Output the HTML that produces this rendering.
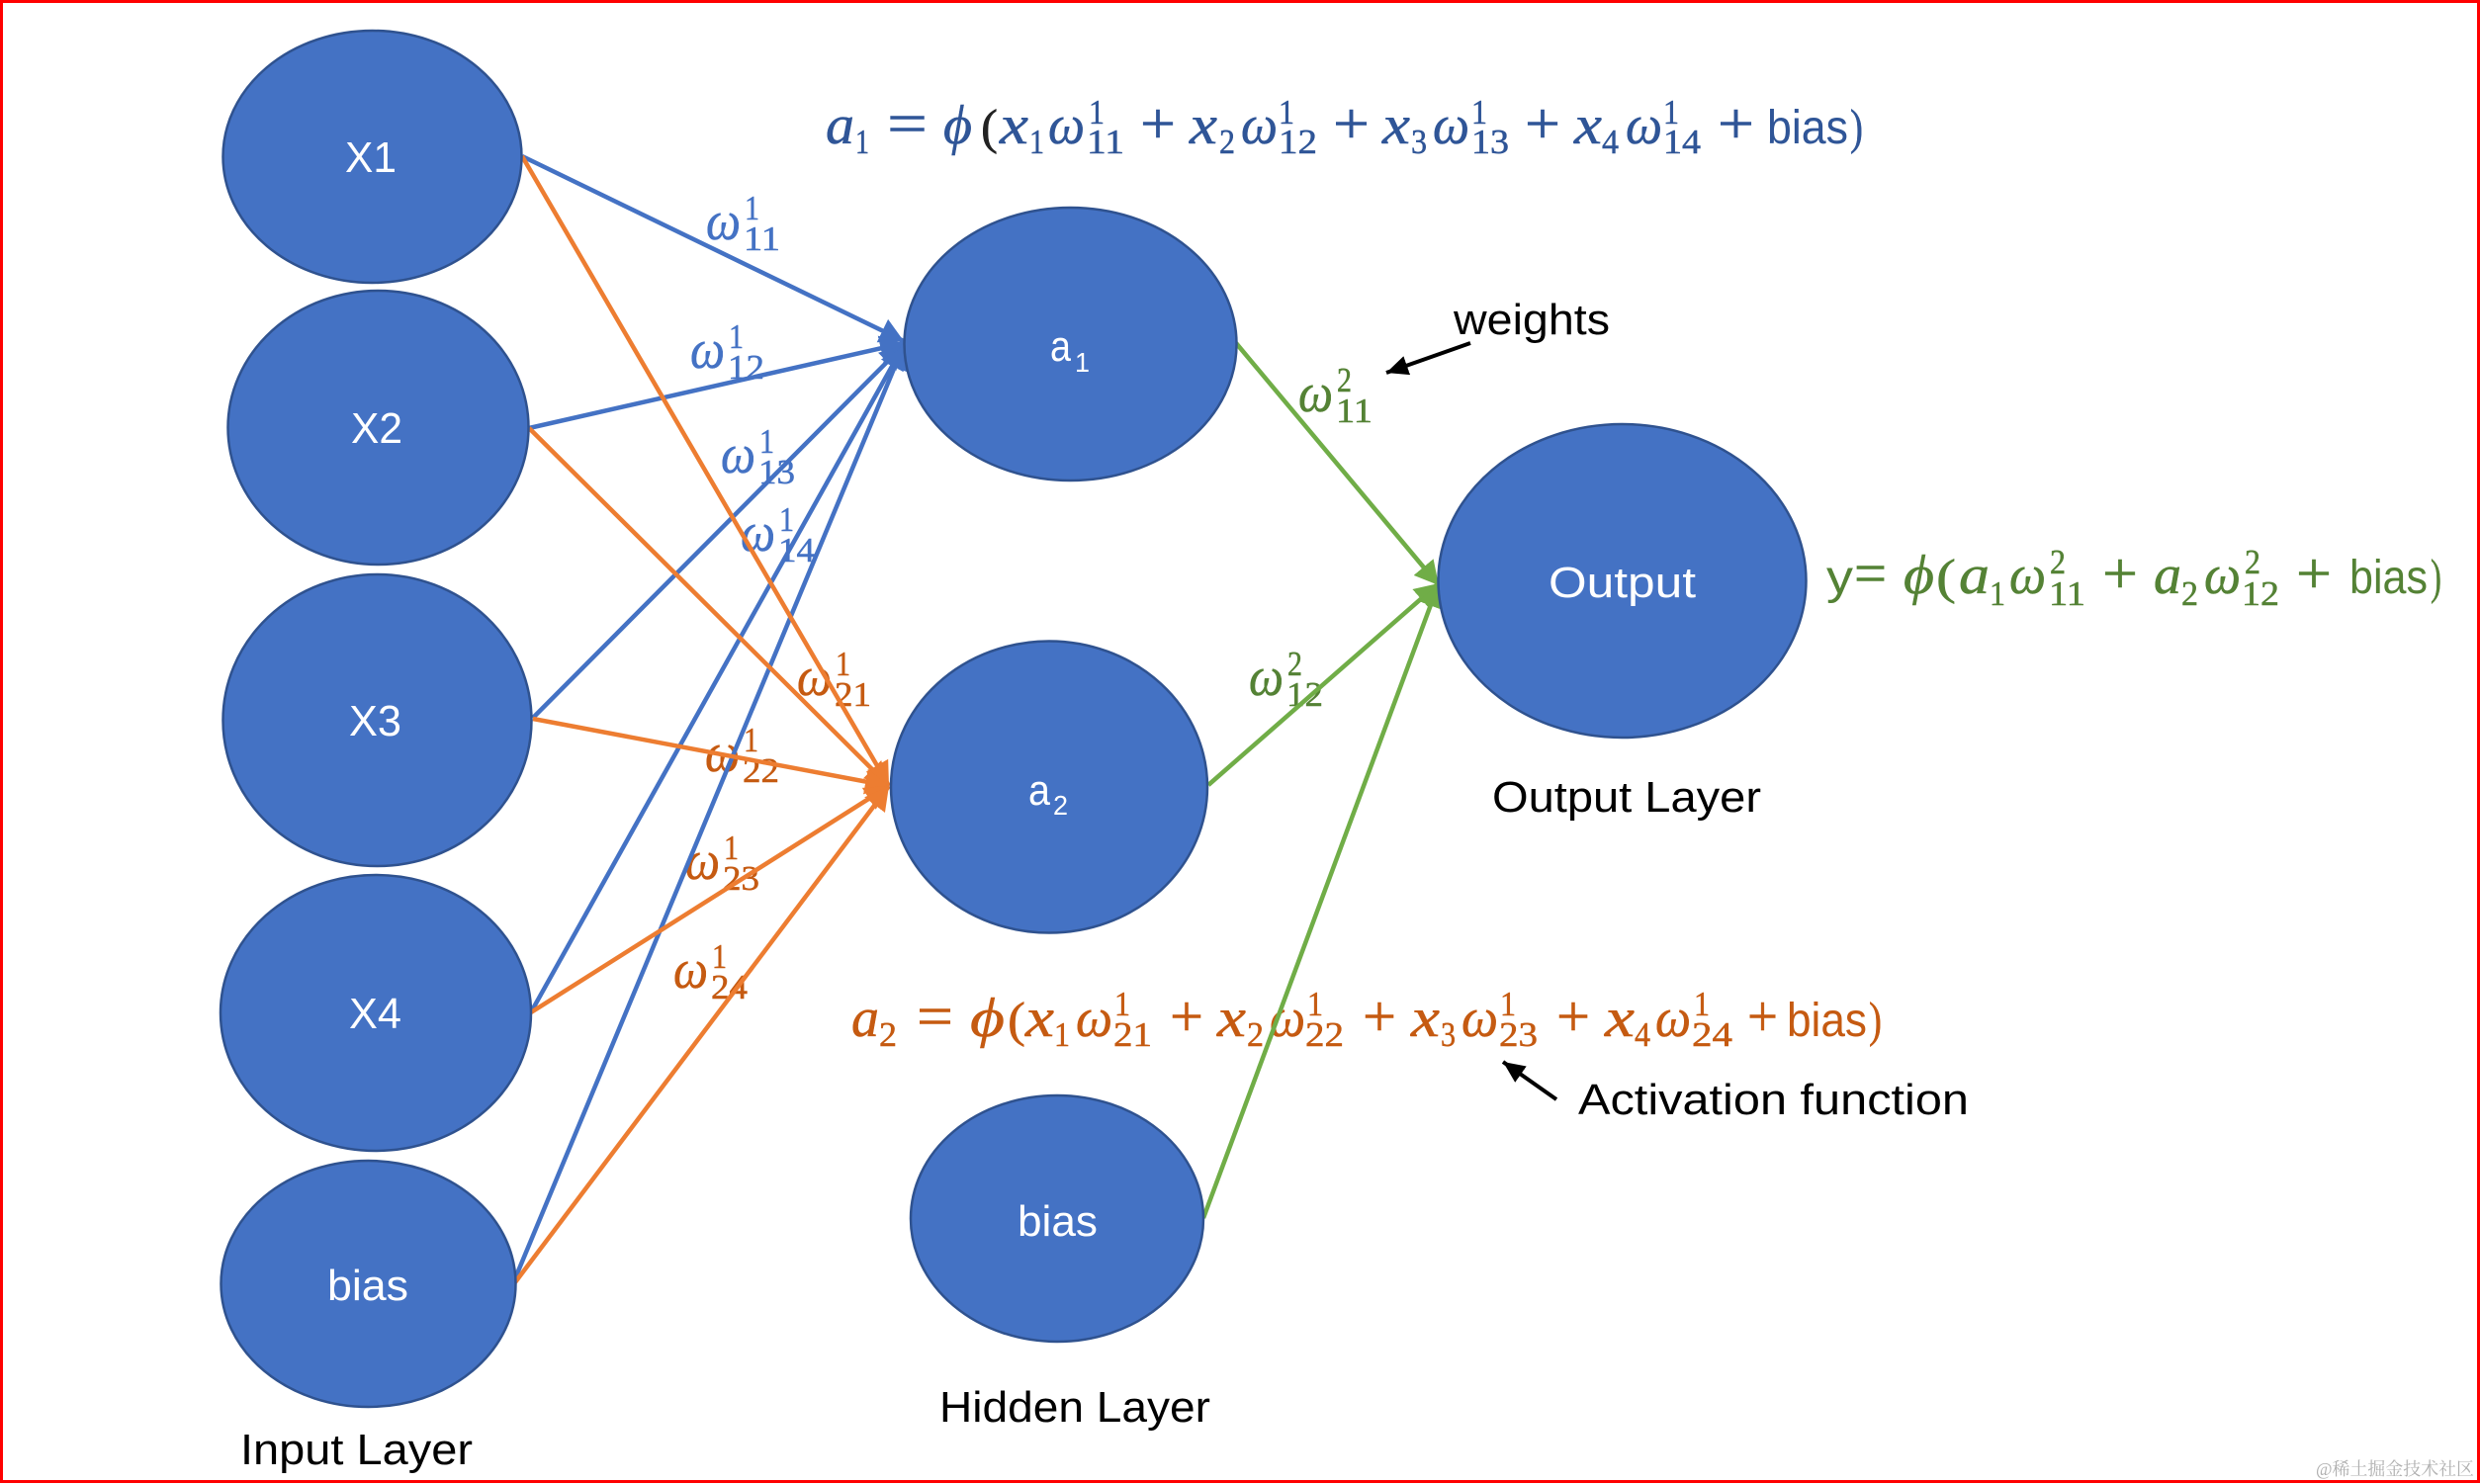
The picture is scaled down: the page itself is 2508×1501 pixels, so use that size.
<!DOCTYPE html>
<html>
<head>
<meta charset="utf-8">
<style>
html,body{margin:0;padding:0;background:#fff}
svg{display:block}
text{font-family:"Liberation Sans",sans-serif}
.m text,text.m{font-family:"Liberation Serif","DejaVu Serif",serif;font-style:italic;stroke-width:.5px}
.d{font-family:"Liberation Serif","DejaVu Serif",serif!important;font-style:normal!important;font-size:35px}
.o{font-family:"Liberation Serif","DejaVu Serif",serif!important;font-style:normal!important;font-size:50px}
.p{font-family:"Liberation Serif","DejaVu Serif",serif!important;font-style:normal!important;font-size:60px}
.m text.s{font-family:"Liberation Sans",sans-serif!important;font-style:normal!important;font-size:48px;stroke:none}
.w{font-size:44px;fill:#fff}
.k{font-size:44px;fill:#000}
.g{font-size:56px}
</style>
</head>
<body>
<svg xmlns="http://www.w3.org/2000/svg" width="2508" height="1501" viewBox="0 0 2508 1501">
<defs>
<marker id="hb" markerUnits="userSpaceOnUse" markerWidth="28" markerHeight="30" refX="24" refY="15" orient="auto"><path d="M0 2L24 15L0 28z" fill="#4472c4"/></marker>
<marker id="ho" markerUnits="userSpaceOnUse" markerWidth="28" markerHeight="30" refX="24" refY="15" orient="auto"><path d="M0 2L24 15L0 28z" fill="#ed7d31"/></marker>
<marker id="hg" markerUnits="userSpaceOnUse" markerWidth="28" markerHeight="30" refX="24" refY="15" orient="auto"><path d="M0 2L24 15L0 28z" fill="#70ad47"/></marker>
<marker id="hk" markerUnits="userSpaceOnUse" markerWidth="24" markerHeight="24" refX="22" refY="12" orient="auto"><path d="M0 2L22 12L0 22z" fill="#000"/></marker>
</defs>
<rect x="0" y="0" width="2508" height="1501" fill="#fff"/>

<!-- weight labels: blue -->
<g class="m" fill="#4472c4" stroke="#4472c4">
<text class="g" x="714" y="242" textLength="35" lengthAdjust="spacingAndGlyphs">ω</text><text class="d" x="753" y="222" textLength="15" lengthAdjust="spacingAndGlyphs">1</text><text class="d" x="752" y="253" textLength="37" lengthAdjust="spacingAndGlyphs">11</text>
<text class="g" x="698" y="372" textLength="35" lengthAdjust="spacingAndGlyphs">ω</text><text class="d" x="737" y="352" textLength="15" lengthAdjust="spacingAndGlyphs">1</text><text class="d" x="736" y="383" textLength="37" lengthAdjust="spacingAndGlyphs">12</text>
<text class="g" x="729" y="478" textLength="35" lengthAdjust="spacingAndGlyphs">ω</text><text class="d" x="768" y="458" textLength="15" lengthAdjust="spacingAndGlyphs">1</text><text class="d" x="767" y="489" textLength="37" lengthAdjust="spacingAndGlyphs">13</text>
<text class="g" x="749" y="557" textLength="35" lengthAdjust="spacingAndGlyphs">ω</text><text class="d" x="788" y="537" textLength="15" lengthAdjust="spacingAndGlyphs">1</text><text class="d" x="787" y="568" textLength="37" lengthAdjust="spacingAndGlyphs">14</text>
</g>
<!-- weight labels: orange -->
<g class="m" fill="#c55a11" stroke="#c55a11">
<text class="g" x="806" y="703" textLength="35" lengthAdjust="spacingAndGlyphs">ω</text><text class="d" x="845" y="683" textLength="15" lengthAdjust="spacingAndGlyphs">1</text><text class="d" x="844" y="714" textLength="37" lengthAdjust="spacingAndGlyphs">21</text>
<text class="g" x="713" y="780" textLength="35" lengthAdjust="spacingAndGlyphs">ω</text><text class="d" x="752" y="760" textLength="15" lengthAdjust="spacingAndGlyphs">1</text><text class="d" x="751" y="791" textLength="37" lengthAdjust="spacingAndGlyphs">22</text>
<text class="g" x="693" y="889" textLength="35" lengthAdjust="spacingAndGlyphs">ω</text><text class="d" x="732" y="869" textLength="15" lengthAdjust="spacingAndGlyphs">1</text><text class="d" x="731" y="900" textLength="37" lengthAdjust="spacingAndGlyphs">23</text>
<text class="g" x="681" y="999" textLength="35" lengthAdjust="spacingAndGlyphs">ω</text><text class="d" x="720" y="979" textLength="15" lengthAdjust="spacingAndGlyphs">1</text><text class="d" x="719" y="1010" textLength="37" lengthAdjust="spacingAndGlyphs">24</text>
</g>
<!-- weight labels: green -->
<g class="m" fill="#548235" stroke="#548235">
<text class="g" x="1313" y="416" textLength="35" lengthAdjust="spacingAndGlyphs">ω</text><text class="d" x="1352" y="396" textLength="15" lengthAdjust="spacingAndGlyphs">2</text><text class="d" x="1351" y="427" textLength="37" lengthAdjust="spacingAndGlyphs">11</text>
<text class="g" x="1263" y="703" textLength="35" lengthAdjust="spacingAndGlyphs">ω</text><text class="d" x="1302" y="683" textLength="15" lengthAdjust="spacingAndGlyphs">2</text><text class="d" x="1301" y="714" textLength="37" lengthAdjust="spacingAndGlyphs">12</text>
</g>

<!-- equation a1 -->
<g class="m" fill="#2f5597" stroke="#2f5597">
<text class="g" x="835" y="145" textLength="29" lengthAdjust="spacingAndGlyphs">a</text><text class="d" x="865" y="155" textLength="14" lengthAdjust="spacingAndGlyphs">1</text>
<text class="p" x="897" y="145" textLength="41" lengthAdjust="spacingAndGlyphs">=</text>
<text class="g" x="954" y="145" textLength="29" lengthAdjust="spacingAndGlyphs">ϕ</text>
<text class="o" x="992" y="145" textLength="17" lengthAdjust="spacingAndGlyphs" fill="#222" stroke="#222">(</text>
<text class="g" x="1011" y="145" textLength="29" lengthAdjust="spacingAndGlyphs">x</text><text class="d" x="1041" y="155" textLength="15" lengthAdjust="spacingAndGlyphs">1</text>
<text class="g" x="1060" y="145" textLength="37" lengthAdjust="spacingAndGlyphs">ω</text><text class="d" x="1101" y="125" textLength="16" lengthAdjust="spacingAndGlyphs">1</text><text class="d" x="1099" y="155" textLength="38" lengthAdjust="spacingAndGlyphs">11</text>
<text class="p" x="1153" y="145" textLength="36" lengthAdjust="spacingAndGlyphs">+</text>
<text class="g" x="1203" y="145" textLength="28" lengthAdjust="spacingAndGlyphs">x</text><text class="d" x="1233" y="155" textLength="16" lengthAdjust="spacingAndGlyphs">2</text>
<text class="g" x="1255" y="145" textLength="37" lengthAdjust="spacingAndGlyphs">ω</text><text class="d" x="1293" y="125" textLength="16" lengthAdjust="spacingAndGlyphs">1</text><text class="d" x="1293" y="155" textLength="39" lengthAdjust="spacingAndGlyphs">12</text>
<text class="p" x="1348" y="145" textLength="37" lengthAdjust="spacingAndGlyphs">+</text>
<text class="g" x="1398" y="145" textLength="28" lengthAdjust="spacingAndGlyphs">x</text><text class="d" x="1427" y="155" textLength="16" lengthAdjust="spacingAndGlyphs">3</text>
<text class="g" x="1449" y="145" textLength="37" lengthAdjust="spacingAndGlyphs">ω</text><text class="d" x="1488" y="125" textLength="16" lengthAdjust="spacingAndGlyphs">1</text><text class="d" x="1488" y="155" textLength="38" lengthAdjust="spacingAndGlyphs">13</text>
<text class="p" x="1542" y="145" textLength="36" lengthAdjust="spacingAndGlyphs">+</text>
<text class="g" x="1592" y="145" textLength="28" lengthAdjust="spacingAndGlyphs">x</text><text class="d" x="1620" y="155" textLength="17" lengthAdjust="spacingAndGlyphs">4</text>
<text class="g" x="1644" y="145" textLength="37" lengthAdjust="spacingAndGlyphs">ω</text><text class="d" x="1682" y="125" textLength="16" lengthAdjust="spacingAndGlyphs">1</text><text class="d" x="1682" y="155" textLength="38" lengthAdjust="spacingAndGlyphs">14</text>
<text class="p" x="1737" y="145" textLength="37" lengthAdjust="spacingAndGlyphs">+</text>
<text class="s" x="1787" y="145" textLength="82" lengthAdjust="spacingAndGlyphs">bias</text>
<text class="o" x="1871" y="145" textLength="13" lengthAdjust="spacingAndGlyphs">)</text>
</g>

<!-- equation a2 -->
<g class="m" fill="#c55a11" stroke="#c55a11">
<text class="g" x="861" y="1048" textLength="28" lengthAdjust="spacingAndGlyphs">a</text><text class="d" x="889" y="1058" textLength="18" lengthAdjust="spacingAndGlyphs">2</text>
<text class="p" x="927" y="1048" textLength="37" lengthAdjust="spacingAndGlyphs">=</text>
<text class="g" x="981" y="1048" textLength="35" lengthAdjust="spacingAndGlyphs">ϕ</text>
<text class="o" x="1019" y="1048" textLength="18" lengthAdjust="spacingAndGlyphs">(</text>
<text class="g" x="1037" y="1048" textLength="29" lengthAdjust="spacingAndGlyphs">x</text><text class="d" x="1066" y="1058" textLength="16" lengthAdjust="spacingAndGlyphs">1</text>
<text class="g" x="1088" y="1048" textLength="37" lengthAdjust="spacingAndGlyphs">ω</text><text class="d" x="1127" y="1027" textLength="16" lengthAdjust="spacingAndGlyphs">1</text><text class="d" x="1126" y="1058" textLength="39" lengthAdjust="spacingAndGlyphs">21</text>
<text class="p" x="1183" y="1048" textLength="34" lengthAdjust="spacingAndGlyphs">+</text>
<text class="g" x="1231" y="1048" textLength="29" lengthAdjust="spacingAndGlyphs">x</text><text class="d" x="1261" y="1058" textLength="17" lengthAdjust="spacingAndGlyphs">2</text>
<text class="g" x="1284" y="1048" textLength="36" lengthAdjust="spacingAndGlyphs">ω</text><text class="d" x="1322" y="1027" textLength="16" lengthAdjust="spacingAndGlyphs">1</text><text class="d" x="1320" y="1058" textLength="39" lengthAdjust="spacingAndGlyphs">22</text>
<text class="p" x="1378" y="1048" textLength="34" lengthAdjust="spacingAndGlyphs">+</text>
<text class="g" x="1427" y="1048" textLength="29" lengthAdjust="spacingAndGlyphs">x</text><text class="d" x="1457" y="1058" textLength="15" lengthAdjust="spacingAndGlyphs">3</text>
<text class="g" x="1478" y="1048" textLength="37" lengthAdjust="spacingAndGlyphs">ω</text><text class="d" x="1517" y="1027" textLength="16" lengthAdjust="spacingAndGlyphs">1</text><text class="d" x="1516" y="1058" textLength="39" lengthAdjust="spacingAndGlyphs">23</text>
<text class="p" x="1574" y="1048" textLength="34" lengthAdjust="spacingAndGlyphs">+</text>
<text class="g" x="1623" y="1048" textLength="30" lengthAdjust="spacingAndGlyphs">x</text><text class="d" x="1653" y="1058" textLength="16" lengthAdjust="spacingAndGlyphs">4</text>
<text class="g" x="1674" y="1048" textLength="36" lengthAdjust="spacingAndGlyphs">ω</text><text class="d" x="1713" y="1027" textLength="16" lengthAdjust="spacingAndGlyphs">1</text><text class="d" x="1711" y="1058" textLength="41" lengthAdjust="spacingAndGlyphs">24</text>
<text class="p" x="1767" y="1048" textLength="31" lengthAdjust="spacingAndGlyphs">+</text>
<text class="s" x="1807" y="1048" textLength="81" lengthAdjust="spacingAndGlyphs">bias</text>
<text class="o" x="1890" y="1048" textLength="13" lengthAdjust="spacingAndGlyphs">)</text>
</g>

<!-- equation y -->
<g class="m" fill="#548235" stroke="#548235">
<text class="s" x="1847" y="600" textLength="27" lengthAdjust="spacingAndGlyphs">y</text>
<text class="p" x="1875" y="600" textLength="33" lengthAdjust="spacingAndGlyphs">=</text>
<text class="g" x="1925" y="600" textLength="31" lengthAdjust="spacingAndGlyphs">ϕ</text>
<text class="o" x="1958" y="600" textLength="20" lengthAdjust="spacingAndGlyphs">(</text>
<text class="g" x="1981" y="600" textLength="31" lengthAdjust="spacingAndGlyphs">a</text><text class="d" x="2012" y="612" textLength="16" lengthAdjust="spacingAndGlyphs">1</text>
<text class="g" x="2032" y="600" textLength="37" lengthAdjust="spacingAndGlyphs">ω</text><text class="d" x="2073" y="580" textLength="16" lengthAdjust="spacingAndGlyphs">2</text><text class="d" x="2072" y="612" textLength="37" lengthAdjust="spacingAndGlyphs">11</text>
<text class="p" x="2126" y="600" textLength="36" lengthAdjust="spacingAndGlyphs">+</text>
<text class="g" x="2178" y="600" textLength="28" lengthAdjust="spacingAndGlyphs">a</text><text class="d" x="2206" y="612" textLength="17" lengthAdjust="spacingAndGlyphs">2</text>
<text class="g" x="2229" y="600" textLength="37" lengthAdjust="spacingAndGlyphs">ω</text><text class="d" x="2270" y="580" textLength="16" lengthAdjust="spacingAndGlyphs">2</text><text class="d" x="2267" y="612" textLength="38" lengthAdjust="spacingAndGlyphs">12</text>
<text class="p" x="2322" y="600" textLength="36" lengthAdjust="spacingAndGlyphs">+</text>
<text class="s" x="2376" y="600" textLength="79" lengthAdjust="spacingAndGlyphs">bias</text>
<text class="o" x="2458" y="600" textLength="11" lengthAdjust="spacingAndGlyphs">)</text>
</g>

<!-- connectors -->
<g fill="none" stroke-width="4.5" stroke="#4472c4">
<line x1="528" y1="158" x2="914" y2="345" marker-end="url(#hb)"/>
<line x1="535" y1="433" x2="914" y2="347" marker-end="url(#hb)"/>
<line x1="539" y1="726" x2="914" y2="349" marker-end="url(#hb)"/>
<line x1="538" y1="1022" x2="914" y2="349" marker-end="url(#hb)"/>
<line x1="521" y1="1293" x2="914" y2="349" marker-end="url(#hb)"/>
</g>
<g fill="none" stroke-width="4.5" stroke="#ed7d31">
<line x1="528" y1="158" x2="899" y2="795" marker-end="url(#ho)"/>
<line x1="535" y1="433" x2="899" y2="795" marker-end="url(#ho)"/>
<line x1="539" y1="727" x2="899" y2="795" marker-end="url(#ho)"/>
<line x1="537" y1="1024" x2="899" y2="795" marker-end="url(#ho)"/>
<line x1="521" y1="1297" x2="899" y2="795" marker-end="url(#ho)"/>
</g>
<g fill="none" stroke-width="4.5" stroke="#70ad47">
<line x1="1250" y1="347" x2="1455" y2="592" marker-end="url(#hg)"/>
<line x1="1222" y1="794" x2="1455" y2="590" marker-end="url(#hg)"/>
<line x1="1217" y1="1232" x2="1455" y2="590" marker-end="url(#hg)"/>
</g>
<line x1="1487" y1="347" x2="1402" y2="377" stroke="#000" stroke-width="4" marker-end="url(#hk)"/>
<line x1="1574" y1="1112" x2="1520" y2="1074" stroke="#000" stroke-width="4" marker-end="url(#hk)"/>

<!-- nodes -->
<g fill="#4472c4" stroke="#2f528f" stroke-width="2.5">
<ellipse cx="376.5" cy="158.5" rx="151" ry="127.5"/>
<ellipse cx="382.5" cy="432.5" rx="152" ry="138.5"/>
<ellipse cx="381.5" cy="728.5" rx="156" ry="147.5"/>
<ellipse cx="380" cy="1024.5" rx="157" ry="139.5"/>
<ellipse cx="372.5" cy="1298.5" rx="149" ry="124.5"/>
<ellipse cx="1082.5" cy="348" rx="168" ry="138"/>
<ellipse cx="1061" cy="796" rx="160" ry="147.5"/>
<ellipse cx="1069" cy="1232.5" rx="148" ry="124.5"/>
<ellipse cx="1640.5" cy="587.5" rx="186" ry="158.5"/>
</g>

<!-- node labels -->
<text class="w" x="349" y="174" textLength="52" lengthAdjust="spacingAndGlyphs">X1</text>
<text class="w" x="355" y="448" textLength="52" lengthAdjust="spacingAndGlyphs">X2</text>
<text class="w" x="353" y="744" textLength="53" lengthAdjust="spacingAndGlyphs">X3</text>
<text class="w" x="353" y="1040" textLength="53" lengthAdjust="spacingAndGlyphs">X4</text>
<text class="w" x="331" y="1315" textLength="82" lengthAdjust="spacingAndGlyphs">bias</text>
<text class="w" x="1062" y="365" textLength="21" lengthAdjust="spacingAndGlyphs">a</text>
<text class="w" x="1087" y="376" style="font-size:28px" textLength="15" lengthAdjust="spacingAndGlyphs">1</text>
<text class="w" x="1040" y="814" textLength="22" lengthAdjust="spacingAndGlyphs">a</text>
<text class="w" x="1065" y="824" style="font-size:28px" textLength="15" lengthAdjust="spacingAndGlyphs">2</text>
<text class="w" x="1029" y="1250" textLength="81" lengthAdjust="spacingAndGlyphs">bias</text>
<text class="w" x="1566" y="604" textLength="149" lengthAdjust="spacingAndGlyphs">Output</text>

<!-- captions -->
<text class="k" x="1470" y="338" textLength="158" lengthAdjust="spacingAndGlyphs">weights</text>
<text class="k" x="1509" y="821" textLength="272" lengthAdjust="spacingAndGlyphs">Output Layer</text>
<text class="k" x="950" y="1438" textLength="274" lengthAdjust="spacingAndGlyphs">Hidden Layer</text>
<text class="k" x="243" y="1481" textLength="235" lengthAdjust="spacingAndGlyphs">Input Layer</text>
<text class="k" x="1596" y="1127" textLength="395" lengthAdjust="spacingAndGlyphs">Activation function</text>

<!-- watermark -->
<text x="2342" y="1492" fill="#b0b0b0" style="font-family:'Liberation Serif','Noto Serif CJK SC',serif;font-size:18px" textLength="160" lengthAdjust="spacingAndGlyphs">@稀土掘金技术社区</text>

<!-- red frame -->
<rect x="1.5" y="1.5" width="2505" height="1497" fill="none" stroke="#ff0000" stroke-width="3"/>
</svg>
</body>
</html>
